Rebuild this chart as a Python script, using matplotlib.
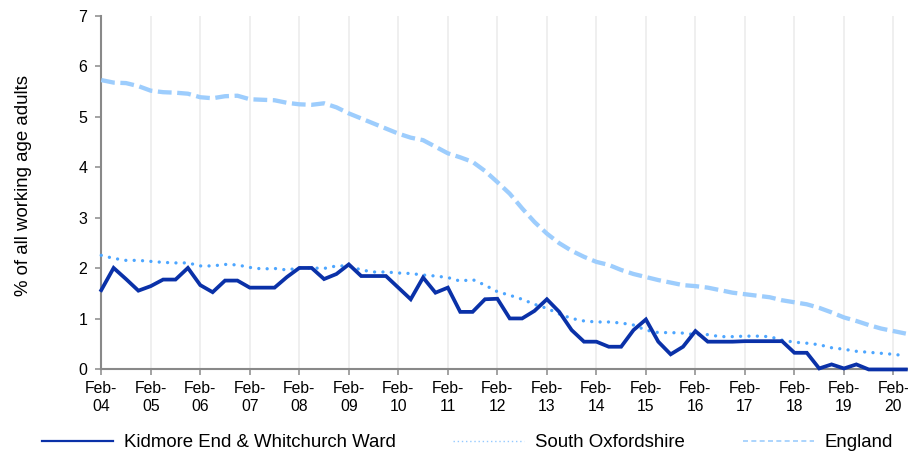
import matplotlib.pyplot as plt
import numpy as np
from matplotlib.lines import Line2D

# quarterly values, Feb-04 .. May-20
kidmore = [
    1.57, 2.01, 1.79, 1.56,
    1.65, 1.78, 1.78, 2.01,
    1.67, 1.53, 1.76, 1.76,
    1.62, 1.62, 1.62, 1.83,
    2.01, 2.01, 1.79, 1.89,
    2.08, 1.85, 1.85, 1.85,
    1.62, 1.39, 1.82, 1.52,
    1.62, 1.14, 1.14, 1.39,
    1.40, 1.01, 1.01, 1.16,
    1.39, 1.14, 0.78, 0.55,
    0.55, 0.45, 0.45, 0.78,
    0.99, 0.55, 0.30, 0.45,
    0.76, 0.55, 0.55, 0.55,
    0.56, 0.56, 0.56, 0.56,
    0.33, 0.33, 0.02, 0.10,
    0.02, 0.10, 0.00, 0.00,
    0.00, 0.00]

south_oxon = [
    2.26, 2.20, 2.16, 2.16,
    2.14, 2.12, 2.11, 2.11,
    2.05, 2.05, 2.08, 2.07,
    2.02, 1.99, 2.00, 1.97,
    2.01, 2.01, 2.00, 2.05,
    2.05, 1.97, 1.93, 1.93,
    1.91, 1.90, 1.87, 1.85,
    1.82, 1.75, 1.78, 1.67,
    1.54, 1.47, 1.39, 1.29,
    1.21, 1.10, 1.01, 0.96,
    0.94, 0.94, 0.92, 0.88,
    0.78, 0.73, 0.73, 0.72,
    0.69, 0.69, 0.65, 0.65,
    0.66, 0.66, 0.65, 0.58,
    0.54, 0.52, 0.49, 0.43,
    0.40, 0.36, 0.34, 0.32,
    0.30, 0.27]

england = [
    5.73, 5.68, 5.67, 5.61,
    5.52, 5.49, 5.48, 5.46,
    5.39, 5.37, 5.41, 5.42,
    5.35, 5.34, 5.33, 5.28,
    5.25, 5.24, 5.27, 5.19,
    5.07, 4.97, 4.87, 4.77,
    4.67, 4.59, 4.54, 4.41,
    4.28, 4.20, 4.11, 3.93,
    3.71, 3.48, 3.19, 2.92,
    2.69, 2.50, 2.35, 2.23,
    2.13, 2.07, 1.97, 1.89,
    1.83, 1.77, 1.72, 1.67,
    1.65, 1.62, 1.57, 1.52,
    1.49, 1.46, 1.43, 1.37,
    1.33, 1.29, 1.22, 1.13,
    1.03, 0.96, 0.88, 0.81,
    0.76, 0.71]

years = list(range(4, 21))
tick_labels = ["Feb-\n%02d" % y for y in years]
series_names = ["Kidmore End & Whitchurch Ward", "South Oxfordshire", "England"]

plt.rcParams['font.family'] = ['Liberation Sans', 'DejaVu Sans']

c_kid = '#0a31a8'
c_so = '#4da6ff'
c_eng = '#9dcdfd'
grey = '#898989'

fig = plt.figure(figsize=(9.08, 4.55), dpi=100)
ax = fig.add_axes([0.1115, 0.188, 0.8875, 0.777])

x = np.arange(len(kidmore))
ax.plot(x, england, color=c_eng, lw=3.1, linestyle=(0, (3.2, 1.3)), clip_on=False, zorder=3)
ax.plot(x, south_oxon, color=c_so, lw=2.4, linestyle=(0, (0.01, 2.5)),
        dash_capstyle='round', clip_on=False, zorder=4)
ax.plot(x, kidmore, color=c_kid, lw=2.7, solid_joinstyle='miter', clip_on=False, zorder=5)

ax.set_xlim(0, 65.1)
ax.set_ylim(0, 7)
ax.set_xticks(np.arange(0, len(kidmore), 4))
ax.set_xticklabels(tick_labels, fontsize=11.3, linespacing=1.25)
ax.set_yticks(range(0, 8))
ax.tick_params(axis='y', labelsize=11.5, length=4, width=1.1, color=grey, pad=6)
ax.tick_params(axis='x', length=4, width=1.1, color=grey, pad=4)
ax.grid(axis='x', color='#ececec', lw=1.2)
ax.set_axisbelow(True)

for s in ['top', 'right']:
    ax.spines[s].set_visible(False)
for s in ['left', 'bottom']:
    ax.spines[s].set_color(grey)
    ax.spines[s].set_linewidth(1.5)

ax.set_ylabel('% of all working age adults', fontsize=13.4)
ax.yaxis.set_label_coords(-0.086, 0.52)

handles = [
    Line2D([], [], color=c_kid, lw=1.6),
    Line2D([], [], color=c_so, lw=1.0, linestyle=(0, (1, 2)), alpha=0.6),
    Line2D([], [], color=c_eng, lw=1.2, linestyle=(0, (3, 2))),
]
fig.legend(handles, series_names, loc='center', bbox_to_anchor=(0.515, 0.027),
           ncol=3, frameon=False, fontsize=13.4, handlelength=3.8,
           handletextpad=0.6, columnspacing=3.1)

fig.savefig('out.png', dpi=100)
